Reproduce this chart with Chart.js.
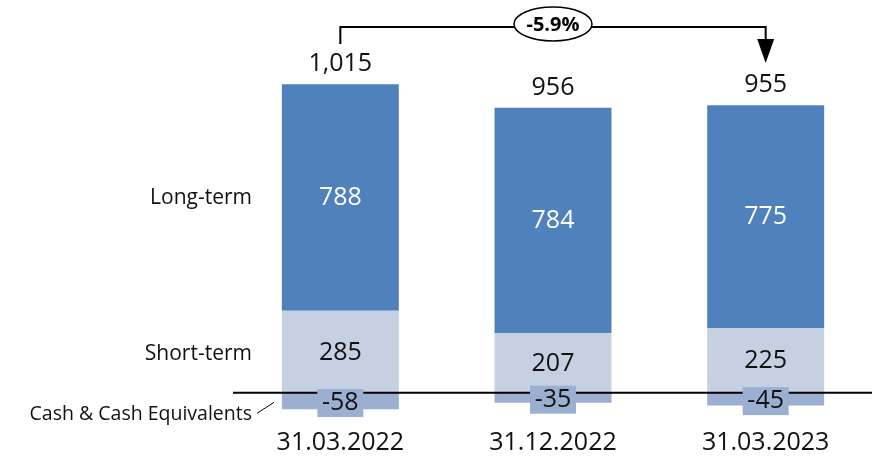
<!DOCTYPE html>
<html lang="en">
  <head>
    <meta charset="UTF-8" />
    <title>Net debt</title>
    <style>
      html, body { margin: 0; padding: 0; background: #fff; overflow: hidden; }
      .box { position: relative; width: 872px; height: 458px; }
    </style>
  </head>
  <body>
    <div class="box">
      <canvas id="grafico"></canvas>
    </div>
    <script src="https://cdn.jsdelivr.net/npm/chart.js"></script>
    <script>
      // dados
      const datas = ["31.03.2022", "31.12.2022", "31.03.2023"];
      const caixa = [-58, -35, -45];
      const curtoPrazo = [285, 207, 225];
      const longoPrazo = [788, 784, 775];
      const nomesSeries = ["Cash & Cash Equivalents", "Short-term", "Long-term"];

      const totais = datas.map((d, i) => caixa[i] + curtoPrazo[i] + longoPrazo[i]);
      const variacao = (totais[2] - totais[0]) / totais[0] * 100;

      const FONTE = "'Open Sans', 'Noto Sans', sans-serif";

      const rotulos = {
        id: "rotulos",
        afterDatasetsDraw(chart) {
          const ctx = chart.ctx;
          const area = chart.chartArea;
          const y0 = chart.scales.y.getPixelForValue(0);
          const metaCaixa = chart.getDatasetMeta(0);
          const metaCurto = chart.getDatasetMeta(1);
          const metaLongo = chart.getDatasetMeta(2);

          ctx.save();
          // linha do zero
          ctx.strokeStyle = "#000";
          ctx.lineWidth = 2;
          ctx.beginPath();
          ctx.moveTo(area.left - 1, y0);
          ctx.lineTo(chart.width, y0);
          ctx.stroke();

          ctx.textAlign = "center";
          ctx.textBaseline = "middle";

          datas.forEach((d, i) => {
            const bL = metaLongo.data[i];
            const bC = metaCurto.data[i];
            const bX = metaCaixa.data[i];

            ctx.font = "25px " + FONTE;
            ctx.fillStyle = "#fff";
            ctx.fillText(longoPrazo[i], bL.x, (bL.y + bL.base) / 2);

            ctx.fillStyle = "#111";
            ctx.fillText(curtoPrazo[i], bC.x, (bC.y + bC.base) / 2 + 1);

            // caixa com fundo por cima da linha
            const cy = (bX.y + bX.base) / 2 + 2;
            ctx.fillStyle = "#9bafd0";
            ctx.fillRect(bX.x - 23, cy - 14, 46, 28);
            ctx.fillStyle = "#111";
            ctx.fillText(caixa[i], bX.x, cy);

            // total acima da barra
            ctx.fillText(totais[i].toLocaleString("en-US"), bL.x, bL.y - 20);
          });

          // nomes das series a esquerda
          const xr = area.left + 18;
          const b0L = metaLongo.data[0];
          const b0C = metaCurto.data[0];
          const b0X = metaCaixa.data[0];
          ctx.textAlign = "right";
          ctx.font = "21px " + FONTE;
          ctx.fillStyle = "#111";
          ctx.fillText(nomesSeries[2], xr, (b0L.y + b0L.base) / 2 + 1);
          ctx.fillText(nomesSeries[1], xr, (b0C.y + b0C.base) / 2 + 2);
          ctx.font = "19.5px " + FONTE;
          ctx.fillText(nomesSeries[0], xr, b0X.y + 5);
          ctx.lineWidth = 1;
          ctx.strokeStyle = "#000";
          ctx.beginPath();
          ctx.moveTo(xr + 5, b0X.y + 4);
          ctx.lineTo(xr + 22, b0X.y - 7);
          ctx.stroke();

          // seta de variacao
          const x1 = metaLongo.data[0].x;
          const x3 = metaLongo.data[2].x;
          const yl = 27;
          ctx.lineWidth = 2;
          ctx.beginPath();
          ctx.moveTo(x1, 44);
          ctx.lineTo(x1, yl);
          ctx.lineTo(x3, yl);
          ctx.lineTo(x3, 42);
          ctx.stroke();
          ctx.fillStyle = "#000";
          ctx.beginPath();
          ctx.moveTo(x3 - 8.5, 39);
          ctx.lineTo(x3 + 8.5, 39);
          ctx.lineTo(x3, 63);
          ctx.closePath();
          ctx.fill();

          const xm = (x1 + x3) / 2;
          ctx.beginPath();
          ctx.ellipse(xm, 24, 39, 17, 0, 0, Math.PI * 2);
          ctx.fillStyle = "#fff";
          ctx.fill();
          ctx.lineWidth = 1.5;
          ctx.stroke();
          ctx.fillStyle = "#000";
          ctx.textAlign = "center";
          ctx.font = "bold 20px " + FONTE;
          ctx.fillText(variacao.toFixed(1) + "%", xm, 25);
          ctx.restore();
        },
      };

      new Chart(document.getElementById("grafico"), {
        type: "bar",
        data: {
          labels: datas,
          datasets: [
            { label: nomesSeries[0], data: caixa, backgroundColor: "#9bafd0" },
            { label: nomesSeries[1], data: curtoPrazo, backgroundColor: "#c5d0e3" },
            { label: nomesSeries[2], data: longoPrazo, backgroundColor: "#4f81bd" },
          ],
        },
        options: {
          responsive: true,
          maintainAspectRatio: false,
          animation: false,
          layout: { padding: { left: 234, right: 0, top: 0, bottom: 0 } },
          datasets: { bar: { barPercentage: 0.55, categoryPercentage: 1 } },
          plugins: { legend: { display: false }, tooltip: { enabled: false } },
          scales: {
            x: {
              stacked: true,
              grid: { display: false, drawTicks: false },
              border: { display: false },
              ticks: { color: "#111", padding: 0, font: { family: FONTE, size: 25 } },
            },
            y: {
              stacked: true,
              display: false,
              min: -123,
              max: 1366,
            },
          },
        },
        plugins: [rotulos],
      });
    </script>
  </body>
</html>
